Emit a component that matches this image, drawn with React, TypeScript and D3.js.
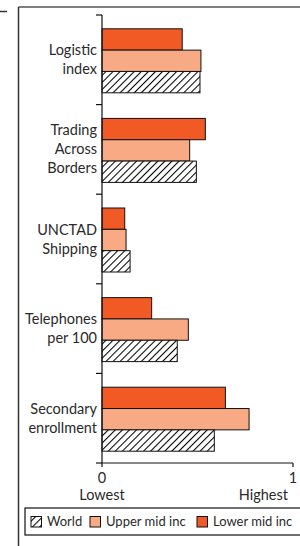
import React, { useEffect, useRef } from 'react';
import * as d3 from 'd3';

// indicators, top to bottom
const categories = ['Logistic index', 'Trading Across Borders', 'UNCTAD Shipping', 'Telephones per 100', 'Secondary enrollment'];
const categoryLines = [['Logistic', 'index'], ['Trading', 'Across', 'Borders'], ['UNCTAD', 'Shipping'], ['Telephones', 'per 100'], ['Secondary', 'enrollment']];

// series drawn top-to-bottom inside each group
const seriesNames = ['Lower mid inc', 'Upper mid inc', 'World'];
const lowerMid = [0.42, 0.541, 0.119, 0.26, 0.646];
const upperMid = [0.518, 0.459, 0.126, 0.452, 0.77];
const world = [0.513, 0.494, 0.147, 0.394, 0.588];

const xTicks = [0, 1];
const xTickNames = ['Lowest', 'Highest'];
const legendItems = ['World', 'Upper mid inc', 'Lower mid inc'];

const colors: Record<string, string> = {
  'Lower mid inc': '#f15a24',
  'Upper mid inc': '#f8aa84',
  'World': 'url(#hatch)',
};

const FONT = 'Lato, "Open Sans", sans-serif';

const App: React.FC = () => {
  const svgRef = useRef<SVGSVGElement>(null);

  useEffect(() => {
    if (!svgRef.current) return;
    const svg = d3.select(svgRef.current);
    svg.selectAll('*').remove();

    const values: Record<string, number[]> = {
      'Lower mid inc': lowerMid,
      'Upper mid inc': upperMid,
      'World': world,
    };

    // hatch pattern for World
    const defs = svg.append('defs');
    const pat = defs.append('pattern')
      .attr('id', 'hatch')
      .attr('patternUnits', 'userSpaceOnUse')
      .attr('width', 5)
      .attr('height', 5)
      .attr('patternTransform', 'rotate(45)');
    pat.append('rect').attr('width', 5).attr('height', 5).attr('fill', 'white');
    pat.append('line')
      .attr('x1', 0.5).attr('y1', 0).attr('x2', 0.5).attr('y2', 5)
      .attr('stroke', '#000').attr('stroke-width', 1.1);

    // outer frame bits
    svg.append('line').attr('x1', 0).attr('x2', 7).attr('y1', 11.5).attr('y2', 11.5)
      .attr('stroke', '#333').attr('stroke-width', 1.5);
    svg.append('line').attr('x1', 18.5).attr('x2', 300).attr('y1', 7).attr('y2', 7)
      .attr('stroke', '#555').attr('stroke-width', 1.5);
    svg.append('line').attr('x1', 18.5).attr('x2', 18.5).attr('y1', 7).attr('y2', 546)
      .attr('stroke', '#333').attr('stroke-width', 1.5);

    const x = d3.scaleLinear().domain([0, 1]).range([102, 293]);
    const y = d3.scaleBand<string>().domain(categories).range([15, 463]).padding(0);
    const inner = d3.scaleBand<string>().domain(seriesNames).range([0, y.bandwidth()])
      .paddingInner(0).paddingOuter(0.6);

    const g = svg.append('g');

    // bars
    seriesNames.forEach(s => {
      g.selectAll(null)
        .data(categories)
        .enter()
        .append('rect')
        .attr('x', x(0))
        .attr('y', d => (y(d) || 0) + (inner(s) || 0) + 1)
        .attr('width', (d, i) => x(values[s][i]) - x(0))
        .attr('height', inner.bandwidth())
        .attr('fill', colors[s])
        .attr('stroke', '#111')
        .attr('stroke-width', 1);
    });

    // y axis
    const yAxis = g.append('g').attr('transform', `translate(${x(0)},0)`);
    yAxis.append('line').attr('x1', 0).attr('x2', 0).attr('y1', 15).attr('y2', 463)
      .attr('stroke', '#111').attr('stroke-width', 1.2);
    const yEdges = categories.map(c => y(c) || 0).concat([463]);
    yAxis.selectAll(null).data(yEdges).enter().append('line')
      .attr('x1', -6).attr('x2', 0).attr('y1', d => d).attr('y2', d => d)
      .attr('stroke', '#111').attr('stroke-width', 1.2);

    // category labels
    categories.forEach((c, i) => {
      const lines = categoryLines[i];
      const cy = (y(c) || 0) + y.bandwidth() / 2;
      const t = g.append('text')
        .attr('text-anchor', 'end')
        .attr('font-family', FONT)
        .attr('font-size', 14.5)
        .attr('fill', '#2a2a2a');
      lines.forEach((ln, j) => {
        t.append('tspan')
          .attr('x', x(0) - 5)
          .attr('y', cy + (j - (lines.length - 1) / 2) * 19 + 5)
          .text(ln);
      });
    });

    // x axis
    const xAxis = g.append('g').attr('transform', 'translate(0,463)');
    xAxis.append('line').attr('x1', x(0)).attr('x2', x(1)).attr('y1', 0).attr('y2', 0)
      .attr('stroke', '#111').attr('stroke-width', 1.2);
    xAxis.selectAll(null).data(xTicks).enter().append('line')
      .attr('x1', d => x(d)).attr('x2', d => x(d)).attr('y1', 0).attr('y2', 4)
      .attr('stroke', '#111').attr('stroke-width', 1.2);
    xAxis.selectAll(null).data(xTicks).enter().append('text')
      .attr('x', d => x(d))
      .attr('y', 20)
      .attr('text-anchor', 'middle')
      .attr('font-family', FONT)
      .attr('font-size', 14.5)
      .attr('fill', '#2a2a2a')
      .text(d => String(d));
    xAxis.selectAll(null).data(xTickNames).enter().append('text')
      .attr('x', (d, i) => i === 0 ? x(xTicks[0]) : x(xTicks[1]) - 5)
      .attr('y', 37)
      .attr('text-anchor', (d, i) => i === 0 ? 'middle' : 'end')
      .attr('font-family', FONT)
      .attr('font-size', 14.5)
      .attr('fill', '#2a2a2a')
      .text(d => d);

    // legend
    const lg = svg.append('g');
    lg.append('rect').attr('x', 25).attr('y', 508).attr('width', 290).attr('height', 27)
      .attr('fill', 'white').attr('stroke', '#111').attr('stroke-width', 1.2);
    const legendX = [31, 90, 197];
    legendItems.forEach((s, i) => {
      lg.append('rect')
        .attr('x', legendX[i]).attr('y', 516.5)
        .attr('width', 10.5).attr('height', 10.5)
        .attr('fill', colors[s])
        .attr('stroke', '#111').attr('stroke-width', 1);
      lg.append('text')
        .attr('x', legendX[i] + 16)
        .attr('y', 526)
        .attr('font-family', FONT)
        .attr('font-size', 13)
        .attr('fill', '#2a2a2a')
        .text(s);
    });
  }, []);

  return (
    <svg ref={svgRef} width={300} height={546}
      style={{ position: 'absolute', left: 0, top: 0, background: 'white' }} />
  );
};

export default App;
